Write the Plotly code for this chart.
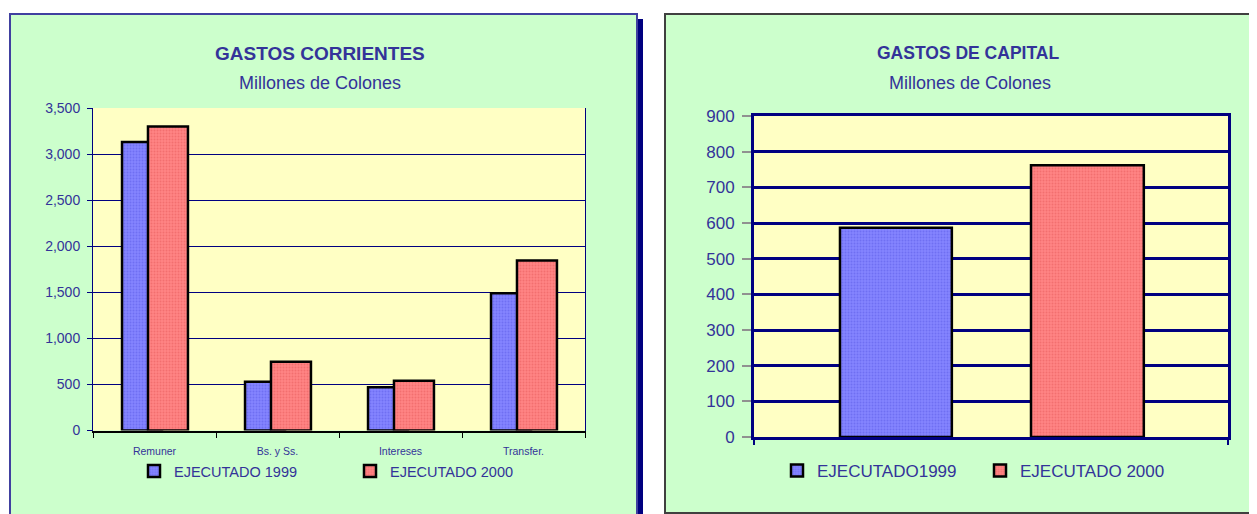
import plotly.graph_objects as go

# ---------------- data ----------------
corr_categories = ["Remuner", "Bs. y Ss.", "Intereses", "Transfer."]
corr_1999 = [3130, 530, 470, 1490]
corr_2000 = [3300, 745, 540, 1845]

cap_categories = ["Gastos de Capital"]
cap_1999 = [587]
cap_2000 = [762]

corr_names = ["EJECUTADO 1999", "EJECUTADO 2000"]
cap_names = ["EJECUTADO1999", "EJECUTADO 2000"]

corr_yticks = [0, 500, 1000, 1500, 2000, 2500, 3000, 3500]
cap_yticks = [0, 100, 200, 300, 400, 500, 600, 700, 800, 900]

# ---------------- styling ----------------
OFF = 8  # page body margin
W, H = 1257 - OFF, 514 - OFF
def px(x):
    return (x - OFF) / W
def py(y):
    return 1 - (y - OFF) / H

FONT = "Liberation Sans, Arial, sans-serif"
TXT = "#333399"
NAVY = "#000080"
BLUE = "#8484FF"
RED = "#FF8484"
YEL = "#FFFFC4"

blue_pat = dict(shape=".", size=3, solidity=0.35, fgcolor="#5A5AE6", fillmode="overlay")
red_pat = dict(shape=".", size=3, solidity=0.35, fgcolor="#E65A5A", fillmode="overlay")

fig = go.Figure()

# left chart: overlapping bars
fig.add_trace(go.Bar(
    x=corr_categories, y=corr_1999, name=corr_names[0],
    xaxis="x", yaxis="y", legend="legend",
    width=0.325, offset=-0.264,
    marker=dict(color=BLUE, line=dict(color="black", width=2.5), pattern=blue_pat),
))
fig.add_trace(go.Bar(
    x=corr_categories, y=corr_2000, name=corr_names[1],
    xaxis="x", yaxis="y", legend="legend",
    width=0.325, offset=-0.053,
    marker=dict(color=RED, line=dict(color="black", width=2.5), pattern=red_pat),
))

# right chart
fig.add_trace(go.Bar(
    x=cap_categories, y=cap_1999, name=cap_names[0],
    xaxis="x2", yaxis="y2", legend="legend2",
    width=0.236, offset=-0.3186,
    marker=dict(color=BLUE, line=dict(color="black", width=2.5), pattern=blue_pat),
))
fig.add_trace(go.Bar(
    x=cap_categories, y=cap_2000, name=cap_names[1],
    xaxis="x2", yaxis="y2", legend="legend2",
    width=0.238, offset=0.0844,
    marker=dict(color=RED, line=dict(color="black", width=2.5), pattern=red_pat),
))

shapes = [
    # left panel shadow
    dict(type="rect", xref="paper", yref="paper", x0=px(15), x1=px(643), y0=py(530), y1=py(19),
         fillcolor=NAVY, line=dict(width=0), layer="below"),
    # left panel
    dict(type="rect", xref="paper", yref="paper", x0=px(10), x1=px(637), y0=py(525), y1=py(14),
         fillcolor="#CCFFCC", line=dict(color="#4040A0", width=2), layer="below"),
    # right panel
    dict(type="rect", xref="paper", yref="paper", x0=px(665), x1=px(1270), y0=py(513), y1=py(14),
         fillcolor="#CCFFCC", line=dict(color="#404040", width=2), layer="below"),
    # plot area backgrounds
    dict(type="rect", xref="x domain", yref="y domain", x0=0, x1=1, y0=0, y1=1,
         fillcolor=YEL, line=dict(width=0), layer="below"),
    dict(type="rect", xref="x2 domain", yref="y2 domain", x0=0, x1=1, y0=0, y1=1,
         fillcolor=YEL, line=dict(width=0), layer="below"),
]

annotations = [
    dict(text="<b>GASTOS CORRIENTES</b>", x=px(320), y=py(53), xref="paper", yref="paper",
         showarrow=False, xanchor="center", yanchor="middle",
         font=dict(family=FONT, size=19, color=TXT)),
    dict(text="Millones de Colones", x=px(320), y=py(83), xref="paper", yref="paper",
         showarrow=False, xanchor="center", yanchor="middle",
         font=dict(family=FONT, size=18, color=TXT)),
    dict(text="<b>GASTOS DE CAPITAL</b>", x=px(968), y=py(53), xref="paper", yref="paper",
         showarrow=False, xanchor="center", yanchor="middle",
         font=dict(family=FONT, size=17.5, color=TXT)),
    dict(text="Millones de Colones", x=px(970), y=py(83), xref="paper", yref="paper",
         showarrow=False, xanchor="center", yanchor="middle",
         font=dict(family=FONT, size=18, color=TXT)),
]

fig.update_layout(
    width=W, height=H,
    margin=dict(l=0, r=0, t=0, b=0, autoexpand=False),
    paper_bgcolor="white",
    plot_bgcolor="rgba(0,0,0,0)",
    barmode="overlay",
    font=dict(family=FONT, color=TXT),
    shapes=shapes,
    annotations=annotations,
    xaxis=dict(
        domain=[px(93), px(585)], anchor="y", automargin=False,
        type="category", range=[-0.5, 3.5],
        showline=True, linecolor="black", linewidth=1.5, mirror=False,
        ticks="outside", tickson="boundaries", ticklen=6, tickcolor="black", tickwidth=1,
        showgrid=False, tickfont=dict(family=FONT, size=10.5, color=TXT),
        ticklabelstandoff=10,
    ),
    yaxis=dict(
        domain=[py(430.5), py(108)], anchor="x", automargin=False,
        range=[0, 3500], tickvals=corr_yticks, tickformat=",",
        showline=True, linecolor=NAVY, linewidth=1, mirror=True,
        ticks="outside", ticklen=5, tickcolor=NAVY,
        showgrid=True, gridcolor=NAVY, gridwidth=1, zeroline=False,
        tickfont=dict(family=FONT, size=14, color=TXT),
        ticklabelstandoff=4,
    ),
    xaxis2=dict(
        domain=[px(754), px(1228)], anchor="y2", automargin=False,
        type="category", range=[-0.5, 0.5],
        showline=True, linecolor=NAVY, linewidth=3, mirror=True,
        ticks="outside", tickson="boundaries", ticklen=5, tickcolor=NAVY, tickwidth=1.5,
        showgrid=False, showticklabels=False,
    ),
    yaxis2=dict(
        domain=[py(437), py(116)], anchor="x2", automargin=False,
        range=[0, 900], tickvals=cap_yticks,
        showline=True, linecolor=NAVY, linewidth=3, mirror=True,
        ticks="outside", ticklen=9, tickcolor="#909090", tickwidth=1.5,
        showgrid=True, gridcolor=NAVY, gridwidth=2.5, zeroline=False,
        tickfont=dict(family=FONT, size=17, color=TXT),
        ticklabelstandoff=4,
    ),
    legend=dict(
        orientation="h", x=px(134), y=py(471), xanchor="left", yanchor="middle",
        bgcolor="rgba(0,0,0,0)", font=dict(family=FONT, size=14.5, color=TXT),
        entrywidth=171, entrywidthmode="pixels", itemclick=False,
    ),
    legend2=dict(
        orientation="h", x=px(777), y=py(471), xanchor="left", yanchor="middle",
        bgcolor="rgba(0,0,0,0)", font=dict(family=FONT, size=17, color=TXT),
        entrywidth=158, entrywidthmode="pixels", itemclick=False,
    ),
    showlegend=True,
)

fig.write_html("out.html")
